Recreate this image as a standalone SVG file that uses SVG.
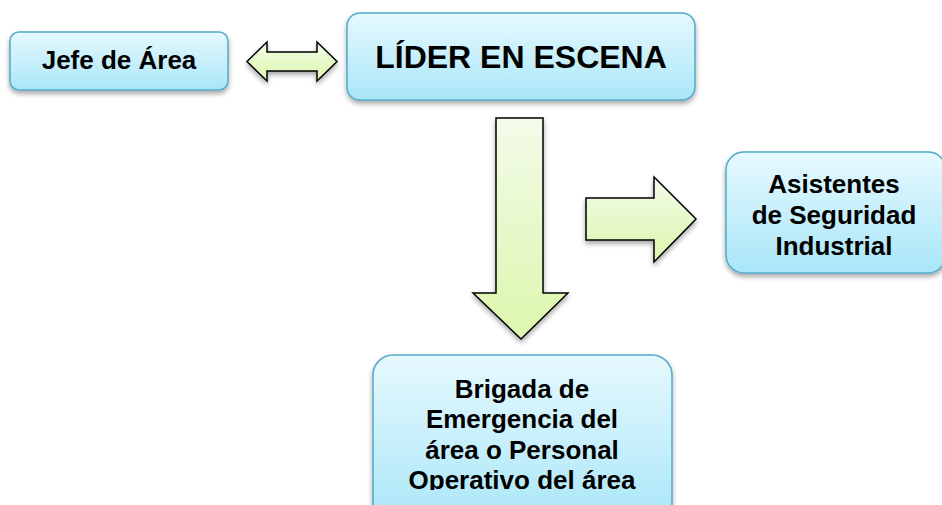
<svg xmlns="http://www.w3.org/2000/svg" width="942" height="505" viewBox="0 0 942 505">
<defs>
<linearGradient id="boxg" x1="0" y1="0" x2="0" y2="1">
<stop offset="0" stop-color="#e6f9fe"/>
<stop offset="1" stop-color="#a9e6f8"/>
</linearGradient>
<linearGradient id="arrg" x1="0" y1="0" x2="0" y2="1">
<stop offset="0" stop-color="#f3fbe9"/>
<stop offset="1" stop-color="#dbf7ac"/>
</linearGradient>
<filter id="sh" x="-10%" y="-10%" width="120%" height="130%">
<feDropShadow dx="0" dy="3" stdDeviation="2.5" flood-color="#000" flood-opacity="0.35"/>
</filter>
<clipPath id="bclip"><rect x="373" y="355" width="299" height="135"/></clipPath>
</defs>
<style>
.box{fill:url(#boxg);stroke:#52aac9;stroke-width:1.5;filter:url(#sh)}
.arr{fill:url(#arrg);stroke:#000;stroke-width:1.5;stroke-linejoin:miter;filter:url(#sh)}
.t{font-family:"Liberation Sans",Arial,sans-serif;font-weight:bold;fill:#000;text-anchor:middle}
</style>
<g id="connectors">
<path class="arr" d="M247,61.5 L267,42 L267,52 L317,52 L317,42 L337,61.5 L317,81 L317,71 L267,71 L267,81 Z"/>
<path class="arr" d="M496,118 L543,118 L543,293 L568,293 L521,339 L473,293 L496,293 Z"/>
<path class="arr" d="M586,198 L654,198 L654,177 L696,219 L654,262 L654,240 L586,240 Z"/>
</g>
<g id="jefe">
<rect class="box" x="10" y="32" width="218" height="58" rx="9"/>
<text class="t" x="119" y="69" font-size="26">Jefe de Área</text>
</g>
<g id="lider">
<rect class="box" x="347" y="13" width="348" height="87" rx="13"/>
<text class="t" x="521" y="68" font-size="32">LÍDER EN ESCENA</text>
</g>
<g id="asistentes">
<rect class="box" x="726" y="152" width="220" height="121" rx="18"/>
<text class="t" x="834" y="193" font-size="26">Asistentes</text>
<text class="t" x="834" y="224" font-size="26">de Seguridad</text>
<text class="t" x="834" y="255" font-size="26">Industrial</text>
</g>
<g id="brigada">
<rect class="box" x="373" y="355" width="299" height="170" rx="20"/>
<g clip-path="url(#bclip)">
<text class="t" x="522" y="398" font-size="26">Brigada de</text>
<text class="t" x="522" y="428" font-size="26">Emergencia del</text>
<text class="t" x="522" y="459" font-size="26">área o Personal</text>
<text class="t" x="522" y="489" font-size="26">Operativo del área</text>
</g>
</g>
</svg>
